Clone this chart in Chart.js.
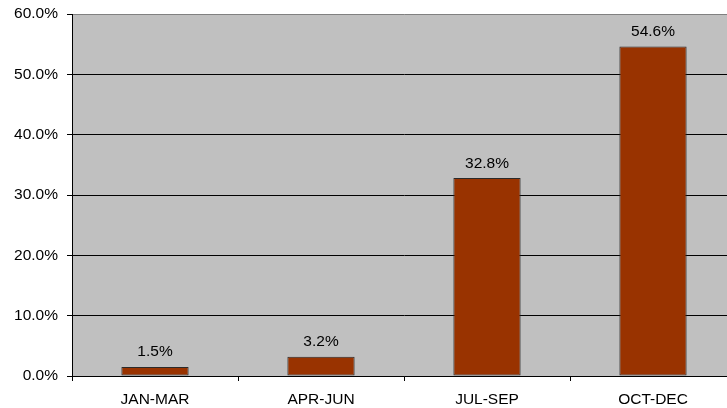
<!DOCTYPE html>
<html>
<head>
<meta charset="utf-8">
<script src="https://cdn.jsdelivr.net/npm/chart.js@4"></script>
<style>
  html, body { margin: 0; padding: 0; background: #fff; overflow: hidden; }
  #wrap { width: 740px; height: 408px; position: relative; }
</style>
</head>
<body>
<div id="wrap"><canvas id="c"></canvas></div>
<script>
const categories = ['JAN-MAR', 'APR-JUN', 'JUL-SEP', 'OCT-DEC'];
const shares = [1.5, 3.2, 32.8, 54.6];
const yTicks = [0, 10, 20, 30, 40, 50, 60];

const FONT = '"Liberation Sans", Arial, sans-serif';

// grey plot-area fill behind grid and bars
const plotBackground = {
  id: 'plotBackground',
  beforeDraw(chart) {
    const { ctx, chartArea: a } = chart;
    ctx.save();
    ctx.fillStyle = '#C0C0C0';
    ctx.fillRect(a.left, a.top, a.right - a.left, a.bottom - a.top);
    ctx.restore();
  }
};

// percentage labels above each bar
const valueLabels = {
  id: 'valueLabels',
  afterDatasetsDraw(chart) {
    const { ctx } = chart;
    const meta = chart.getDatasetMeta(0);
    ctx.save();
    ctx.font = '15.5px ' + FONT;
    ctx.fillStyle = '#000';
    ctx.textAlign = 'center';
    ctx.textBaseline = 'bottom';
    meta.data.forEach((bar, i) => {
      ctx.fillText(shares[i].toFixed(1) + '%', bar.x, bar.y - 7);
    });
    ctx.restore();
  }
};

new Chart(document.getElementById('c'), {
  type: 'bar',
  data: {
    labels: categories,
    datasets: [{
      data: shares,
      backgroundColor: '#993300',
      borderColor: '#2a2a2a',
      borderWidth: 1,
      borderSkipped: false,
      barPercentage: 0.405,
      categoryPercentage: 1
    }]
  },
  options: {
    responsive: true,
    maintainAspectRatio: false,
    animation: false,
    layout: { padding: { top: 14, right: 4, left: 0, bottom: 0 } },
    plugins: { legend: { display: false }, tooltip: { enabled: false } },
    scales: {
      x: {
        grid: {
          offset: true,
          drawOnChartArea: false,
          drawTicks: true,
          tickLength: 5,
          color: '#000'
        },
        border: { color: '#000', width: 1 },
        ticks: { color: '#000', font: { family: FONT, size: 15.5 }, padding: 9 },
        afterFit(scale) { scale.height = 32; }
      },
      y: {
        min: 0,
        max: 60,
        afterBuildTicks(scale) { scale.ticks = yTicks.map(v => ({ value: v })); },
        grid: {
          color: ctx => (ctx.tick && ctx.tick.value === 60 ? '#808080' : '#000'),
          tickColor: '#000',
          tickLength: 5,
          drawTicks: true
        },
        border: { color: '#000', width: 1 },
        ticks: {
          color: '#000',
          font: { family: FONT, size: 15.5 },
          padding: 9,
          callback: v => v.toFixed(1) + '%'
        },
        afterFit(scale) {
          scale.width = 72;
          scale.paddingTop = 0;
          scale.paddingBottom = 0;
        }
      }
    }
  },
  plugins: [plotBackground, valueLabels]
});
</script>
</body>
</html>
